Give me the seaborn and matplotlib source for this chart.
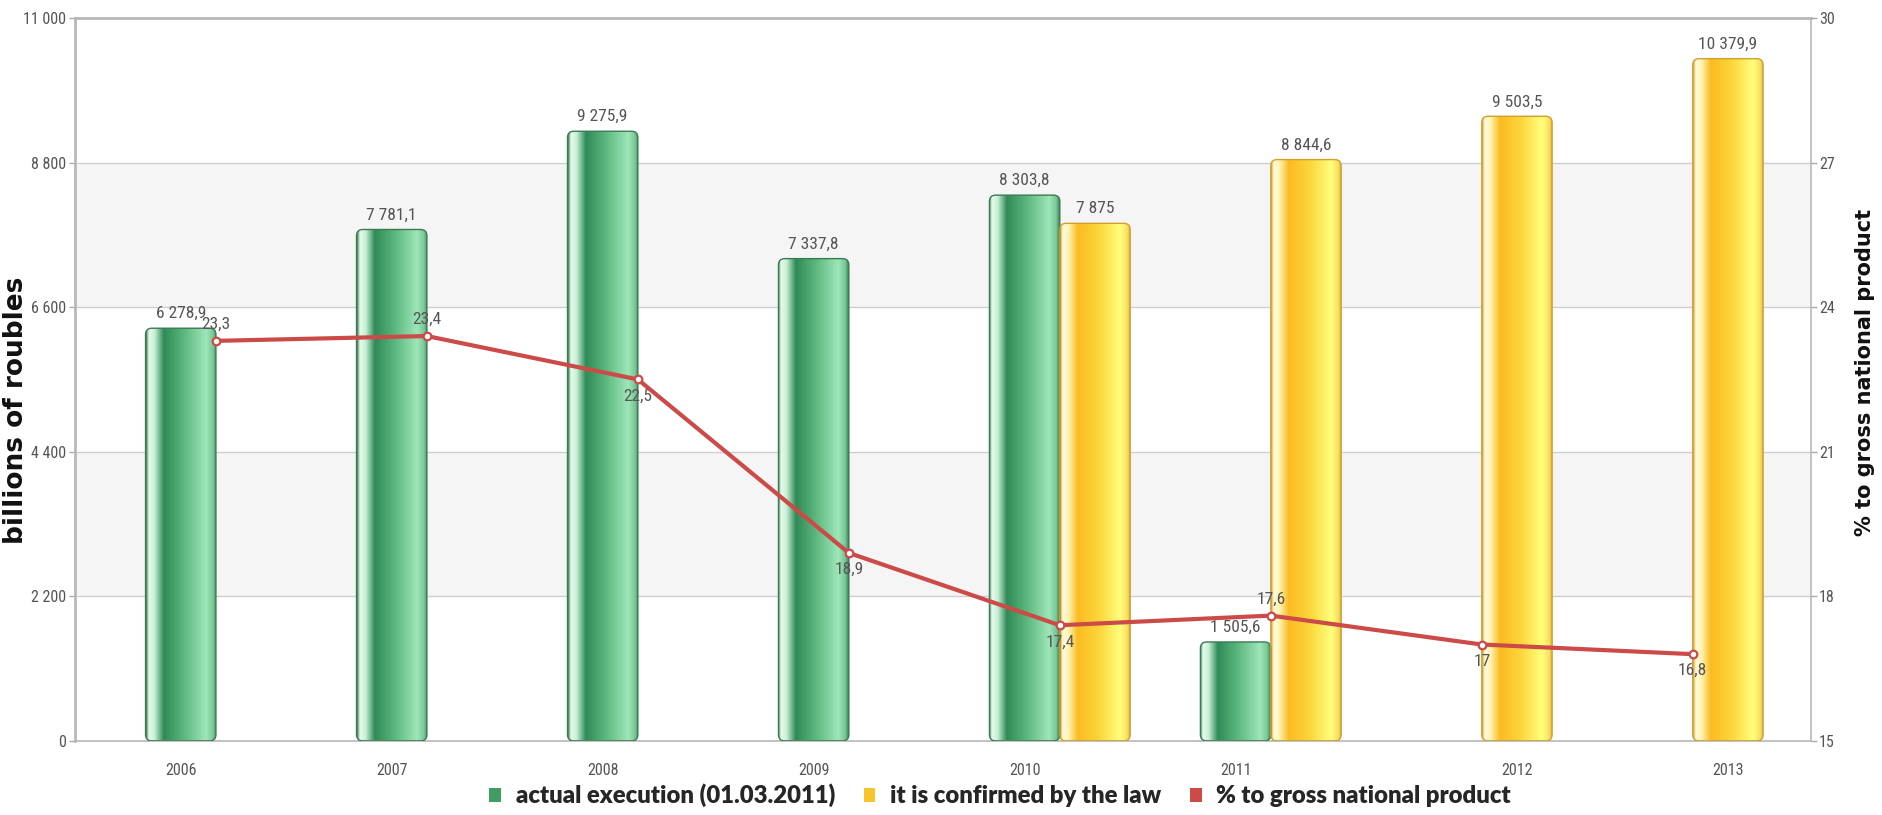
import numpy as np
import pandas as pd
import matplotlib
matplotlib.use('Agg')
import matplotlib.pyplot as plt
import seaborn as sns
from matplotlib import font_manager
from matplotlib.colors import LinearSegmentedColormap
from matplotlib.patches import Patch, FancyBboxPatch

# data
years = ['2006', '2007', '2008', '2009', '2010', '2011', '2012', '2013']
actual = [6278.9, 7781.1, 9275.9, 7337.8, 8303.8, 1505.6, None, None]
law = [None, None, None, None, 7875, 8844.6, 9503.5, 10379.9]
gnp_pct = [23.3, 23.4, 22.5, 18.9, 17.4, 17.6, 17, 16.8]
series_names = ['actual execution (01.03.2011)', 'it is confirmed by the law',
                '% to gross national product']
left_ticks = [0, 2200, 4400, 6600, 8800, 11000]
right_ticks = [15, 18, 21, 24, 27, 30]
pct_label_side = [1, 1, -1, -1, -1, 1, -1, -1]   # 1 = above the point

green, yellow, red = '#3f9d63', '#f9c42a', '#cc4a47'

rows = []
for y, a, l in zip(years, actual, law):
    if a is not None:
        rows.append((y, series_names[0], a))
    if l is not None:
        rows.append((y, series_names[1], l))
df = pd.DataFrame(rows, columns=['year', 'series', 'value'])


def fmt_ru(v):
    if float(v).is_integer():
        s = f'{int(v):,}'
    else:
        s = f'{v:,.1f}'
    return s.replace(',', ' ').replace('.', ',')


installed = {f.name for f in font_manager.fontManager.ttflist}
narrow = next((f for f in ['Liberation Sans Narrow', 'Roboto Condensed', 'Liberation Sans']
               if f in installed), 'DejaVu Sans')
legend_font = 'Lato' if 'Lato' in installed else 'DejaVu Sans'

sns.set_style('white')
plt.rcParams['font.family'] = [narrow, 'DejaVu Sans']

fig, ax = plt.subplots(figsize=(18.83, 8.15), dpi=100)
fig.subplots_adjust(left=0.0396, right=0.9617, bottom=0.0909, top=0.978)

sns.barplot(data=df, x='year', y='value', hue='series', order=years,
            hue_order=series_names[:2], palette=[green, yellow], width=0.667,
            gap=0, dodge=True, errorbar=None, saturation=1, legend=False, ax=ax)

# shiny cylinder look: gradient clipped into rounded bars
green_cmap = LinearSegmentedColormap.from_list('g', [
    (0.0, '#3d7f55'), (0.04, '#e6faec'), (0.12, '#c9efd6'), (0.25, '#2f8a57'),
    (0.55, '#5fba80'), (0.85, '#9fe6b9'), (0.95, '#78c695'), (1.0, '#3b7a52')])
yellow_cmap = LinearSegmentedColormap.from_list('y', [
    (0.0, '#d9a530'), (0.04, '#fffbe0'), (0.12, '#fff3b0'), (0.25, '#fbbb22'),
    (0.55, '#fcd63c'), (0.85, '#ffff7c'), (0.95, '#f9e060'), (1.0, '#d9a530')])
grad = np.linspace(0, 1, 256).reshape(1, -1)
aspect = (11000 / 725.0) * 211.0   # y data units per x data unit, in pixels

for cont, cmap, edge in zip(ax.containers, [green_cmap, yellow_cmap], ['#3b7a52', '#d0a030']):
    for bar in cont:
        x0, w, h = bar.get_x(), bar.get_width(), bar.get_height()
        bar.set_visible(False)
        shape = FancyBboxPatch((x0, 0), w, h, boxstyle='round,pad=0,rounding_size=0.03',
                               mutation_aspect=aspect, facecolor='none',
                               edgecolor=edge, linewidth=1, zorder=3)
        ax.add_patch(shape)
        im = ax.imshow(grad, extent=[x0, x0 + w, 0, h], aspect='auto', cmap=cmap,
                       zorder=2.5, interpolation='bilinear')
        im.set_clip_path(shape)
    ax.bar_label(cont, fmt=fmt_ru, padding=5, fontsize=12.5, color='#555555')

# alternating bands and grid
for lo, hi in [(2200, 4400), (6600, 8800)]:
    ax.axhspan(lo, hi, color='#f5f5f5', zorder=0, lw=0)
ax.yaxis.grid(True, color='#cfcfcf', lw=1)
ax.set_axisbelow(True)

xlim = (-0.67, 7.56)
ax.set_ylim(0, 11000)
ax.set_yticks(left_ticks)
ax.set_yticklabels([fmt_ru(t) for t in left_ticks])
tick_pos = [i - 0.1667 if actual[i] is not None else i + 0.1667 for i in range(len(years))]
ax.set_xticks(tick_pos)
ax.set_xticklabels(years)
ax.set_xlim(*xlim)
ax.set_xlabel('')
ax.set_ylabel('billions of roubles', fontsize=19, fontweight='bold',
              family='DejaVu Sans', color='#111111')
ax.yaxis.set_label_coords(-0.026, 0.457)
ax.tick_params(axis='x', length=0, pad=16, labelsize=11.5, labelcolor='#555555')
ax.tick_params(axis='y', length=4, width=1, color='#aaaaaa', pad=2,
               labelsize=11.5, labelcolor='#555555', left=True)
for side in ['top', 'bottom', 'left', 'right']:
    ax.spines[side].set_visible(True)
    ax.spines[side].set_color('#b8b8b8')
    ax.spines[side].set_linewidth(2 if side in ('top', 'left') else 1.2)

# percentage line on the right axis
ax2 = ax.twinx()
sns.lineplot(x=np.arange(len(years)), y=gnp_pct, ax=ax2, color=red, linewidth=3,
             marker='o', markersize=5.5, markerfacecolor='white',
             markeredgecolor=red, markeredgewidth=1.6, zorder=5)
for i, (v, side) in enumerate(zip(gnp_pct, pct_label_side)):
    ax2.annotate(fmt_ru(v), (i, v), xytext=(0, 12 * side), textcoords='offset points',
                 ha='center', va='center', fontsize=12.5, color='#555555')
ax2.set_ylim(15, 30)
ax2.set_yticks(right_ticks)
ax2.tick_params(axis='y', length=4, width=1, color='#aaaaaa', pad=2,
                labelsize=11.5, labelcolor='#555555', right=True)
ax2.set_ylabel('% to gross national product', fontsize=15, fontweight='bold',
               family='DejaVu Sans', color='#111111', rotation=90)
ax2.yaxis.set_label_coords(1.0255, 0.51)
for s in ax2.spines.values():
    s.set_visible(False)
ax2.set_xlim(*xlim)

handles = [Patch(facecolor=c, edgecolor='none') for c in [green, yellow, red]]
fig.legend(handles, series_names, loc='center', bbox_to_anchor=(0.531, 0.024),
           ncol=3, frameon=False, handlelength=0.5, handleheight=0.5,
           handletextpad=0.6, columnspacing=1.2,
           prop={'family': [legend_font, 'DejaVu Sans'], 'weight': 'heavy', 'size': 17.2})

fig.savefig('out.png', dpi=100)
